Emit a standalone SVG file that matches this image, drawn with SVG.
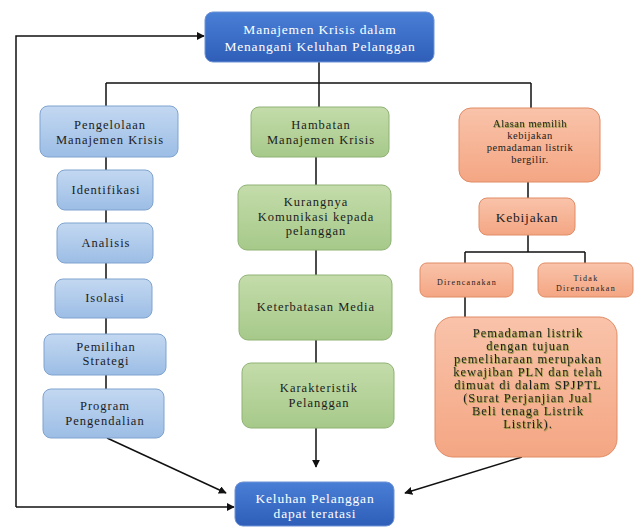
<svg xmlns="http://www.w3.org/2000/svg" width="637" height="530" viewBox="0 0 637 530">
<defs>
<linearGradient id="gDark" x1="0" y1="0" x2="0" y2="1"><stop offset="0" stop-color="#4a7fd6"/><stop offset="1" stop-color="#2e5eb8"/></linearGradient>
<linearGradient id="gLight" x1="0" y1="0" x2="0" y2="1"><stop offset="0" stop-color="#c3d8f1"/><stop offset="1" stop-color="#9cbde5"/></linearGradient>
<linearGradient id="gGreen" x1="0" y1="0" x2="0" y2="1"><stop offset="0" stop-color="#c4dcaa"/><stop offset="1" stop-color="#a6c98a"/></linearGradient>
<linearGradient id="gOrange" x1="0" y1="0" x2="0" y2="1"><stop offset="0" stop-color="#f9c3aa"/><stop offset="1" stop-color="#f4a683"/></linearGradient>
<marker id="arr" viewBox="0 0 10 10" refX="9" refY="5" markerWidth="8" markerHeight="8" markerUnits="userSpaceOnUse" orient="auto"><path d="M0,0 L10,5 L0,10 z" fill="#111"/></marker>
<filter id="olive" x="-5%" y="-20%" width="110%" height="140%"><feDropShadow dx="0.6" dy="1" stdDeviation="0.3" flood-color="#6f8a1e" flood-opacity="0.9"/></filter>
</defs>
<style>
text{font-family:'Liberation Serif','DejaVu Serif',serif;text-anchor:middle;fill:#1c1c1c;font-size:12.5px;letter-spacing:1px}
.dark rect{fill:url(#gDark);stroke:#6f93d6;stroke-width:1}
.dark text{fill:#fff;font-size:13.5px;letter-spacing:0.8px}
.light rect{fill:url(#gLight);stroke:#7fa3cf;stroke-width:1}
.green rect{fill:url(#gGreen);stroke:#8fb275;stroke-width:1}
.orange rect{fill:url(#gOrange);stroke:#e08c66;stroke-width:1}
.small{font-size:8px;letter-spacing:1.3px}
.shadowed{filter:url(#olive)}
.al{font-size:10.5px;letter-spacing:0.5px}
.para{font-size:10px;letter-spacing:2.2px}
#connectors path{fill:none;stroke:#111;stroke-width:1.5}
</style>
<rect width="637" height="530" fill="#fff"/>
<g id="connectors">
<path d="M319,62 V83 M106,83 H531 M106,83 V106 M319,83 V107 M531,83 V108"/>
<path d="M106,157 V170 M106,210 V223 M106,263 V279 M106,318 V334 M106,375 V389"/>
<path d="M316,157 V185 M316,250 V275 M316,340 V363"/>
<path d="M316,428 V467" marker-end="url(#arr)"/>
<path d="M528,182 V198 M528,235 V252 M465,252 H585 M465,252 V263 M585,252 V263 M465,297 V317"/>
<path d="M107,438 L226,493" marker-end="url(#arr)"/>
<path d="M522,457 L405,493" marker-end="url(#arr)"/>
<path d="M16,507 H234" marker-end="url(#arr)"/>
<path d="M16,507 V36 H204" marker-end="url(#arr)"/>
</g>
<g id="n-top" class="dark"><rect x="205" y="12" width="229" height="50" rx="8"/><text x="320" y="34">Manajemen Krisis dalam</text><text x="320" y="51">Menangani Keluhan Pelanggan</text></g>
<g id="n-pengelolaan" class="light"><rect x="40" y="106" width="138" height="51" rx="8"/><text x="110" y="129">Pengelolaan</text><text x="110" y="144">Manajemen Krisis</text></g>
<g id="n-identifikasi" class="light"><rect x="57" y="170" width="96" height="40" rx="8"/><text x="106" y="194">Identifikasi</text></g>
<g id="n-analisis" class="light"><rect x="57" y="223" width="96" height="40" rx="8"/><text x="106" y="247">Analisis</text></g>
<g id="n-isolasi" class="light"><rect x="55" y="279" width="97" height="39" rx="8"/><text x="105" y="302">Isolasi</text></g>
<g id="n-pemilihan" class="light"><rect x="44" y="334" width="122" height="41" rx="8"/><text x="106" y="351">Pemilihan</text><text x="106" y="365">Strategi</text></g>
<g id="n-program" class="light"><rect x="43" y="389" width="121" height="49" rx="8"/><text x="105" y="410">Program</text><text x="105" y="425">Pengendalian</text></g>
<g id="n-hambatan" class="green"><rect x="251" y="107" width="138" height="50" rx="8"/><text x="321" y="129">Hambatan</text><text x="321" y="144">Manajemen Krisis</text></g>
<g id="n-kurangnya" class="green"><rect x="238" y="185" width="153" height="65" rx="9"/><text x="316" y="206">Kurangnya</text><text x="316" y="220.5">Komunikasi kepada</text><text x="316" y="235">pelanggan</text></g>
<g id="n-keterbatasan" class="green"><rect x="239" y="275" width="153" height="65" rx="9"/><text x="316" y="311">Keterbatasan Media</text></g>
<g id="n-karakteristik" class="green"><rect x="242" y="363" width="152" height="65" rx="9"/><text x="319" y="392">Karakteristik</text><text x="319" y="407">Pelanggan</text></g>
<g id="n-alasan" class="orange"><rect x="459" y="108" width="141" height="74" rx="12"/><text x="530" y="127" class="al shadowed">Alasan memilih</text><text x="530" y="139" class="al">kebijakan</text><text x="530" y="151" class="al">pemadaman listrik</text><text x="530" y="163" class="al">bergilir.</text></g>
<g id="n-kebijakan" class="orange"><rect x="479" y="198" width="96" height="37" rx="8"/><text x="527" y="222" style="font-size:13.5px;letter-spacing:0.8px">Kebijakan</text></g>
<g id="n-direncanakan" class="orange"><rect x="420" y="263" width="93" height="34" rx="7"/><text x="467" y="285" class="small">Direncanakan</text></g>
<g id="n-tidak" class="orange"><rect x="538" y="263" width="95" height="34" rx="7"/><text x="586" y="281" class="small">Tidak</text><text x="586" y="291" class="small">Direncanakan</text></g>
<g id="n-pemadaman" class="orange"><rect x="435" y="317" width="182" height="140" rx="18"/>
<g class="shadowed para">
<text x="528" y="337">Pemadaman listrik</text>
<text x="528" y="350">dengan tujuan</text>
<text x="528" y="363">pemeliharaan merupakan</text>
<text x="528" y="376">kewajiban PLN dan telah</text>
<text x="528" y="389">dimuat di dalam SPJPTL</text>
<text x="528" y="402">(Surat Perjanjian Jual</text>
<text x="528" y="415">Beli tenaga Listrik</text>
<text x="528" y="428">Listrik).</text>
</g></g>
<g id="n-keluhan" class="dark"><rect x="235" y="482" width="159" height="44" rx="8"/><text x="315" y="503">Keluhan Pelanggan</text><text x="315" y="518">dapat teratasi</text></g>
</svg>
